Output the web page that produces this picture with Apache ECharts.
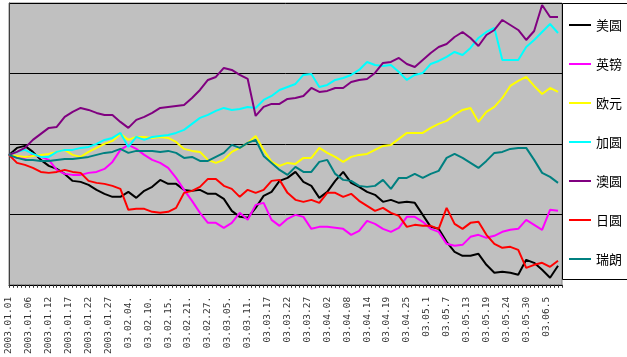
<!DOCTYPE html>
<html>
<head>
<meta charset="utf-8">
<script src="https://cdn.jsdelivr.net/npm/echarts@6/dist/echarts.min.js"></script>
<style>
html,body{margin:0;padding:0;background:#fff;}
#chart{width:627px;height:357px;}
</style>
</head>
<body>
<div id="chart"></div>
<script>
// Tick labels (every 5th trading day)
const tickLabels = ['2003.01.01','2003.01.06','2003.01.12','2003.01.17','2003.01.22','2003.01.27',
  '03.02.04.','03.02.10.','03.02.15.','03.02.21.','03.02.27.','03.03.05.','03.03.11.',
  '03.03.17','03.03.22','03.03.27','03.04.02','03.04.08','03.04.14','03.04.19','03.04.25',
  '03.05.1','03.05.7','03.05.13','03.05.19','03.05.24','03.05.30','03.06.5'];
const dayCount = 140;      // trading days on the axis
const sampleStep = 2;      // values read every 2 trading days

const seriesNames = ['美圆','英镑','欧元','加圆','澳圆','日圆','瑞朗'];

const usd = [130,137,139,133,125,119,116,111,104,103, 100,95,91,88,88,93,87,94,98,105,
  101,101,95,94,95,91,91,86,74,68, 67,77,89,93,104,107,113,103,99,87,
  93,104,113,102,98,93,90,83,85,82, 83,82,70,58,56,43,33,29,29,31,
  20,12,13,12,10,25,22,15,7,19];
const gbp = [130,127,127,130,128,125,115,111,110,110, 112,113,116,123,135,140,136,130,125,122,
  117,107,95,84,72,62,62,57,62,72, 65,80,82,65,59,66,70,68,56,58,
  58,57,56,50,54,64,61,56,53,57, 68,68,63,56,53,41,39,40,48,50,
  47,49,53,55,56,65,60,55,75,74];
const eur = [130,129,128,129,130,131,133,135,130,128, 133,137,141,144,151,145,148,148,147,148,
  147,143,136,134,133,125,122,125,133,137, 142,149,135,123,119,122,121,127,127,137,
  132,128,123,128,130,131,135,139,140,146, 152,152,152,157,161,164,170,175,177,163,
  173,178,187,199,204,208,199,191,197,193];
const cad = [130,133,135,131,128,128,133,135,135,137, 138,141,145,147,152,138,148,145,148,149,
  150,152,155,161,167,170,174,177,175,176, 178,177,185,189,195,198,201,210,211,198,
  200,205,207,210,215,223,220,219,220,213, 205,210,212,221,224,228,233,230,237,247,
  253,257,225,225,225,238,245,253,261,252];
const aud = [130,133,137,145,151,157,158,168,173,177, 175,172,170,170,163,157,165,168,172,177,
  178,179,180,187,195,205,208,217,215,210, 206,169,178,181,181,186,187,189,197,193,
  194,197,197,203,205,206,212,222,223,227, 221,218,225,232,238,241,248,253,247,239,
  250,255,265,260,255,245,254,280,268,268];
const jpy = [130,122,120,117,113,112,113,115,113,112, 104,102,101,99,96,75,76,76,73,72,
  73,77,92,94,98,106,106,99,96,88, 95,92,95,104,105,92,85,83,85,82,
  92,92,88,91,84,79,74,77,72,69, 58,60,59,59,56,77,61,56,62,63,
  50,41,37,38,35,17,20,22,18,24];
const chf = [130,127,125,125,124,124,125,126,126,127, 128,130,132,133,136,132,134,134,134,133,
  134,132,127,128,124,124,128,132,140,137, 142,145,129,122,115,110,118,113,113,123,
  125,111,105,104,99,98,99,105,96,107, 107,111,107,111,114,127,131,127,122,117,
  124,132,133,136,137,137,125,112,108,102];

const seriesValues = [usd, gbp, eur, cad, aud, jpy, chf];
const seriesColors = ['#000000','#FF00FF','#FFFF00','#00FFFF','#800080','#FF0000','#008080'];

const categories = [];
for (let i = 0; i < dayCount; i++) categories.push(String(i));

const chart = echarts.init(document.getElementById('chart'), null, {renderer:'canvas'});
chart.setOption({
  animation: false,
  backgroundColor: '#ffffff',
  graphic: [{
    type: 'rect', left: 562, top: 3, z: 0,
    shape: {width: 70, height: 276},
    style: {fill: '#ffffff', stroke: '#000000', lineWidth: 1}
  }],
  grid: {left: 9, right: 65, top: 3, bottom: 72, show: true,
    backgroundColor: '#C0C0C0', borderColor: '#808080', borderWidth: 1},
  legend: {
    orient: 'vertical', left: 569, top: 17, z: 10, padding: 0,
    itemWidth: 22, itemHeight: 2, itemGap: 23, icon: 'rect',
    data: seriesNames,
    textStyle: {fontFamily: 'Noto Sans CJK SC', fontSize: 13, color: '#000', lineHeight: 16}
  },
  xAxis: {
    type: 'category', data: categories, boundaryGap: false,
    axisLine: {lineStyle: {color: '#000', width: 1}},
    axisTick: {show: true, interval: 0, length: 3, lineStyle: {color: '#333'}},
    axisLabel: {
      interval: 4, rotate: 90, margin: 12, color: '#333',
      fontFamily: 'DejaVu Sans Mono', fontSize: 9.5,
      formatter: (v, idx) => tickLabels[idx / 5] || ''
    },
    splitLine: {show: false}
  },
  yAxis: {
    type: 'value', min: 0, max: 282, interval: 70.5,
    axisLine: {show: true, lineStyle: {color: '#404040'}},
    axisTick: {show: false}, axisLabel: {show: false},
    splitLine: {show: true, lineStyle: {color: '#000', width: 1}}
  },
  series: seriesNames.map((name, s) => ({
    name, type: 'line', showSymbol: false, symbol: 'none',
    color: seriesColors[s],
    lineStyle: {width: 2, color: seriesColors[s]},
    data: seriesValues[s].map((v, j) => [j * sampleStep, v])
  }))
});
</script>
</body>
</html>
